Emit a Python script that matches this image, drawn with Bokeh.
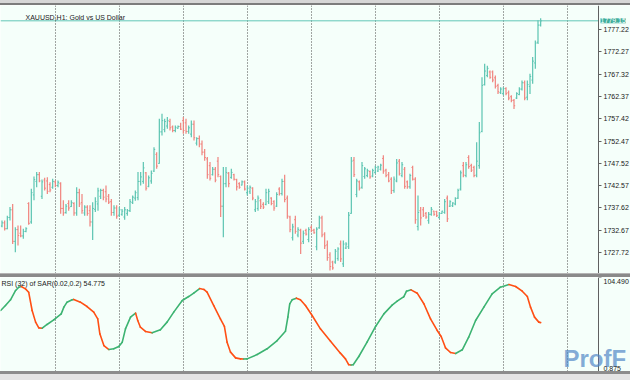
from bokeh.plotting import figure
from bokeh.models import (Range1d, FixedTicker, PrintfTickFormatter, Grid,
                          Label, ColumnDataSource, Div)
from bokeh.layouts import column
from bokeh.embed import file_html
from bokeh.resources import INLINE

# ---------------- data ----------------
symbol_title = "XAUUSD,H1:  Gold vs US Dollar"
indicator_title = "RSI (32) of SAR(0.02,0.2) 54.775"
current_price = 1779.15

bar_open = [1733.6, 1734.3, 1733.0, 1735.5, 1737.2, 1730.2, 1732.8, 1732.0, 1731.4, 1732.4,
            1738.6, 1734.5, 1740.5, 1743.5, 1745.0, 1740.2, 1743.8, 1743.6, 1742.8, 1742.2,
            1743.4, 1742.6, 1743.0, 1737.5, 1736.6, 1738.6, 1737.9, 1738.6, 1736.5, 1741.0,
            1738.8, 1736.5, 1737.8, 1737.0, 1734.5, 1737.3, 1738.5, 1740.2, 1741.5, 1741.2,
            1740.2, 1739.0, 1736.6, 1737.6, 1736.0, 1736.2, 1735.6, 1736.4, 1737.0, 1738.8,
            1739.8, 1739.9, 1743.5, 1743.5, 1745.4, 1742.4, 1743.6, 1745.8, 1749.5, 1747.5,
            1754.5, 1755.0, 1755.8, 1756.8, 1755.6, 1754.8, 1755.3, 1755.7, 1757.0, 1756.5,
            1754.6, 1754.0, 1756.2, 1752.0, 1753.0, 1751.8, 1750.0, 1748.5, 1747.0, 1745.0,
            1746.2, 1748.0, 1744.6, 1738.0, 1743.0, 1745.3, 1744.4, 1745.0, 1743.9, 1743.0,
            1742.7, 1743.4, 1741.0, 1741.2, 1742.0, 1737.2, 1737.5, 1739.2, 1738.4, 1738.4,
            1739.0, 1739.8, 1739.0, 1738.0, 1741.8, 1740.8, 1743.5, 1739.8, 1735.6, 1731.0,
            1735.0, 1731.6, 1732.6, 1730.2, 1732.6, 1730.6, 1733.3, 1732.7, 1729.0, 1733.2,
            1735.4, 1731.8, 1729.4, 1727.2, 1725.6, 1725.6, 1726.4, 1729.6, 1725.2, 1728.7,
            1729.0, 1736.4, 1748.2, 1740.6, 1743.4, 1742.2, 1744.6, 1744.8, 1745.7, 1744.7,
            1745.5, 1745.8, 1746.2, 1748.6, 1746.0, 1745.0, 1744.0, 1741.5, 1743.6, 1748.0,
            1744.8, 1746.2, 1743.4, 1742.3, 1746.6, 1744.0, 1733.5, 1737.0, 1737.2, 1736.4,
            1734.8, 1736.2, 1736.9, 1736.8, 1735.5, 1736.4, 1736.6, 1739.8, 1738.0, 1738.1,
            1738.5, 1739.8, 1741.8, 1747.0, 1744.8, 1748.8, 1747.0, 1746.6, 1744.9, 1747.0,
            1754.6, 1765.0, 1767.0, 1767.8, 1767.8, 1766.5, 1764.8, 1763.2, 1763.0, 1764.1,
            1763.2, 1762.3, 1761.5, 1762.0, 1762.8, 1764.0, 1765.4, 1762.2, 1764.6, 1766.0,
            1769.8, 1774.4, 1778.2]
bar_high = [1734.8, 1734.8, 1735.9, 1737.8, 1738.5, 1733.3, 1733.7, 1733.7, 1733.0, 1733.3,
            1738.9, 1741.9, 1744.6, 1745.6, 1745.6, 1743.9, 1744.3, 1744.4, 1743.3, 1744.1,
            1743.7, 1743.7, 1743.3, 1739.3, 1738.5, 1739.3, 1739.3, 1738.9, 1742.2, 1741.9,
            1740.7, 1738.2, 1738.2, 1738.2, 1738.9, 1740.0, 1742.1, 1741.9, 1741.9, 1742.6,
            1740.7, 1739.6, 1738.2, 1738.2, 1737.8, 1737.4, 1737.8, 1737.4, 1739.6, 1740.4,
            1741.5, 1745.6, 1745.6, 1747.8, 1745.6, 1744.8, 1745.9, 1751.1, 1750.0, 1757.4,
            1758.5, 1757.4, 1757.8, 1757.4, 1755.9, 1755.9, 1755.9, 1756.5, 1757.8, 1757.4,
            1755.9, 1757.0, 1757.0, 1753.3, 1753.7, 1752.6, 1750.7, 1748.9, 1747.8, 1746.7,
            1746.7, 1748.9, 1744.8, 1746.7, 1746.7, 1745.6, 1746.3, 1745.2, 1744.1, 1743.3,
            1743.7, 1743.7, 1742.6, 1742.6, 1742.2, 1739.6, 1740.4, 1739.6, 1738.9, 1741.9,
            1741.9, 1740.0, 1739.3, 1741.1, 1742.2, 1744.1, 1745.0, 1740.4, 1735.9, 1734.1,
            1735.9, 1733.3, 1733.0, 1732.6, 1733.0, 1733.3, 1733.7, 1733.0, 1733.3, 1735.9,
            1735.9, 1732.2, 1730.4, 1727.8, 1725.9, 1728.5, 1728.9, 1730.4, 1730.4, 1730.0,
            1736.7, 1748.9, 1748.9, 1744.1, 1743.7, 1747.8, 1746.7, 1746.3, 1745.9, 1746.3,
            1747.0, 1747.0, 1747.4, 1749.3, 1746.3, 1745.6, 1744.4, 1744.6, 1748.5, 1748.5,
            1747.8, 1746.7, 1743.7, 1745.2, 1747.0, 1744.4, 1740.4, 1737.8, 1737.8, 1736.7,
            1736.7, 1737.8, 1737.0, 1737.0, 1736.7, 1737.0, 1739.6, 1740.4, 1739.3, 1738.9,
            1740.0, 1741.9, 1745.9, 1747.8, 1747.8, 1749.3, 1747.4, 1747.0, 1752.2, 1756.7,
            1766.6, 1769.6, 1769.2, 1768.1, 1768.1, 1767.0, 1765.2, 1764.4, 1764.4, 1764.4,
            1763.7, 1762.6, 1761.8, 1763.3, 1764.4, 1765.9, 1765.9, 1765.9, 1767.4, 1771.1,
            1774.8, 1779.3, 1779.7]
bar_low = [1733.3, 1732.6, 1732.9, 1734.8, 1729.6, 1727.8, 1729.3, 1731.1, 1730.8, 1732.2,
           1733.9, 1734.1, 1739.3, 1742.2, 1743.3, 1739.6, 1741.5, 1740.7, 1741.1, 1741.9,
           1742.2, 1742.2, 1736.3, 1735.9, 1736.3, 1737.0, 1737.8, 1735.9, 1735.9, 1737.8,
           1736.3, 1735.9, 1735.9, 1733.5, 1730.5, 1736.7, 1737.0, 1739.6, 1739.3, 1738.9,
           1738.5, 1735.9, 1735.9, 1735.2, 1735.6, 1735.9, 1735.0, 1735.9, 1736.7, 1738.5,
           1739.2, 1739.3, 1742.6, 1743.0, 1741.5, 1742.2, 1743.0, 1745.6, 1746.3, 1747.4,
           1753.7, 1754.4, 1755.2, 1754.8, 1754.4, 1754.4, 1755.2, 1754.9, 1754.1, 1754.1,
           1754.1, 1753.3, 1752.6, 1751.5, 1751.1, 1749.3, 1748.1, 1744.1, 1743.7, 1744.8,
           1743.3, 1744.4, 1735.6, 1731.1, 1742.2, 1742.2, 1744.1, 1743.7, 1741.5, 1741.9,
           1742.6, 1741.5, 1740.4, 1740.7, 1739.3, 1736.7, 1737.0, 1737.4, 1737.4, 1738.2,
           1738.5, 1738.2, 1737.0, 1737.8, 1740.4, 1740.4, 1738.9, 1735.2, 1732.2, 1730.4,
           1731.9, 1731.1, 1727.4, 1729.6, 1731.5, 1730.0, 1732.2, 1731.9, 1728.2, 1733.0,
           1731.1, 1728.5, 1725.9, 1723.7, 1723.9, 1725.2, 1725.9, 1725.6, 1724.5, 1728.5,
           1728.5, 1736.3, 1744.5, 1740.0, 1741.5, 1741.9, 1744.1, 1744.4, 1744.1, 1744.4,
           1745.2, 1745.6, 1745.9, 1745.2, 1744.4, 1743.3, 1740.7, 1741.0, 1743.3, 1744.8,
           1744.4, 1741.9, 1741.9, 1741.9, 1743.7, 1734.1, 1732.6, 1733.7, 1735.6, 1735.2,
           1734.1, 1735.9, 1735.9, 1735.6, 1735.2, 1736.3, 1736.3, 1734.5, 1737.8, 1737.8,
           1738.2, 1739.6, 1741.5, 1744.4, 1744.4, 1746.3, 1745.6, 1744.4, 1744.4, 1746.3,
           1754.4, 1764.8, 1766.6, 1766.3, 1765.5, 1764.1, 1762.9, 1762.9, 1762.6, 1762.6,
           1761.5, 1761.1, 1759.6, 1761.8, 1762.6, 1763.7, 1761.5, 1761.5, 1762.9, 1765.2,
           1768.5, 1774.0, 1777.9]
bar_close = [1734.3, 1733.0, 1735.5, 1737.2, 1730.2, 1732.8, 1731.5, 1731.4, 1732.4, 1733.0,
             1734.2, 1741.0, 1743.9, 1745.0, 1743.6, 1743.4, 1742.0, 1741.3, 1741.6, 1743.5,
             1742.6, 1743.3, 1737.5, 1736.5, 1738.0, 1737.6, 1738.8, 1736.5, 1741.0, 1738.5,
             1737.0, 1737.8, 1736.4, 1734.5, 1737.5, 1739.0, 1741.4, 1741.5, 1740.0, 1739.6,
             1738.9, 1736.6, 1737.6, 1735.8, 1737.2, 1736.9, 1737.2, 1737.0, 1739.0, 1740.0,
             1741.0, 1743.5, 1744.5, 1746.5, 1742.0, 1744.3, 1745.3, 1750.6, 1746.9, 1754.5,
             1757.0, 1756.8, 1757.0, 1755.4, 1754.8, 1755.5, 1755.7, 1755.1, 1754.8, 1754.6,
             1755.4, 1756.2, 1753.2, 1753.0, 1751.8, 1750.0, 1748.8, 1745.0, 1744.2, 1746.2,
             1743.8, 1745.0, 1738.0, 1743.0, 1745.5, 1743.0, 1745.5, 1744.0, 1742.3, 1742.2,
             1743.4, 1741.8, 1742.0, 1742.2, 1739.8, 1739.0, 1739.8, 1738.0, 1737.8, 1741.0,
             1741.3, 1738.6, 1737.6, 1740.6, 1740.8, 1743.5, 1739.5, 1735.8, 1732.8, 1733.4,
             1732.4, 1732.8, 1729.8, 1732.0, 1731.8, 1732.8, 1732.6, 1732.1, 1732.9, 1735.4,
             1731.6, 1729.2, 1726.6, 1724.6, 1724.3, 1728.0, 1728.5, 1726.3, 1729.6, 1729.6,
             1736.0, 1748.0, 1745.0, 1743.6, 1742.0, 1747.0, 1746.3, 1745.9, 1744.5, 1745.9,
             1746.6, 1746.7, 1747.1, 1745.8, 1744.8, 1743.6, 1741.5, 1744.0, 1747.6, 1745.2,
             1747.2, 1742.4, 1742.3, 1744.8, 1744.0, 1735.0, 1736.6, 1735.4, 1736.0, 1735.6,
             1736.2, 1737.3, 1736.2, 1735.9, 1736.4, 1736.9, 1739.0, 1735.2, 1739.0, 1738.7,
             1739.7, 1741.5, 1745.4, 1744.9, 1747.2, 1746.8, 1746.0, 1744.8, 1748.0, 1754.3,
             1764.8, 1768.0, 1768.6, 1766.6, 1766.0, 1764.6, 1763.4, 1764.0, 1764.1, 1763.0,
             1762.0, 1761.5, 1760.3, 1763.0, 1764.0, 1765.4, 1762.0, 1765.0, 1766.8, 1770.2,
             1774.2, 1778.2, 1779.15]

price_ticks = [1727.72, 1732.67, 1737.62, 1742.57, 1747.52, 1752.47,
               1757.42, 1762.37, 1767.32, 1772.27, 1777.22]
day_ticks = [20, 44, 68, 92, 116, 140, 164, 188, 212]

rsi_x = [-0.5, 1.3, 3.2, 5.1, 6.3, 7.2, 8.8, 10.0, 11.3, 12.6, 13.8, 15.1, 16.9, 19.4,
         22.2, 23.2, 24.4, 26.3, 26.9, 29.4, 31.9, 34.4, 35.9, 36.7, 38.2, 40.1, 41.9,
         43.8, 45.1, 46.3, 48.2, 50.1, 50.9, 51.9, 53.8, 56.3, 59.4, 61.9, 64.4, 67.6,
         70.0, 71.9, 74.1, 75.7, 76.9, 79.4, 81.9, 83.4, 84.4, 85.7, 87.6, 89.4, 90.6,
         91.9, 95.7, 99.4, 103.2, 106.3, 107.2, 107.9, 108.8, 110.4, 111.9, 113.8, 116.3,
         119.4, 123.2, 126.9, 128.8, 130.0, 130.9, 131.7, 133.8, 136.9, 140.1, 143.2,
         146.3, 148.2, 150.7, 151.7, 153.4, 155.7, 158.2, 160.7, 163.2, 164.7, 166.3,
         168.2, 170.1, 172.6, 175.0, 177.6, 180.7, 183.8, 186.9, 190.1, 192.6, 195.1,
         197.0, 198.2, 199.7, 201.3, 202.0]
rsi_v = [68.1, 73.6, 79.9, 90.2, 93.8, 94.6, 92.0, 88.3, 68.1, 55.3, 49.0, 48.6, 52.7, 57.8,
         64.4, 71.8, 77.3, 79.9, 80.3, 77.3, 72.5, 66.3, 58.9, 42.4, 29.5, 25.1, 25.9,
         28.4, 33.2, 47.9, 60.8, 65.2, 57.1, 49.7, 45.0, 43.5, 46.8, 55.3, 66.3, 79.1,
         83.5, 87.2, 92.3, 91.3, 88.3, 73.6, 58.9, 50.5, 33.2, 22.2, 15.9, 14.8, 14.6,
         14.8, 19.6, 25.9, 35.0, 45.3, 60.8, 75.5, 79.9, 81.7, 79.9, 73.6, 62.6,
         47.9, 34.3, 21.1, 14.8, 8.4, 8.1, 8.3, 17.4, 33.2, 50.5, 64.4,
         74.0, 78.4, 83.5, 89.4, 90.9, 87.2, 75.5, 58.9, 46.1, 39.5, 27.0,
         21.8, 20.7, 24.8, 38.7, 57.1, 71.8, 86.5, 93.8, 96.8, 94.6, 89.4,
         83.5, 71.8, 60.8, 55.3, 54.775]
rsi_min, rsi_max = 0.875, 104.490

# ---------------- style / layout ----------------
BG = "#F5FFFA"
UP = "#5bc4b1"
DN = "#f0837d"
RSI_UP = "#3cb371"
RSI_DN = "#ff4f14"
GRID = "#4a4a4a"
AXIS = "#606060"
TXT = "#202020"
FONT = "Liberation Sans"
W = 630
TOP_H, MAIN_H, SEP_H, SUB_H, BOT_H = 5, 268, 4, 94, 9
BAR_PX = 8.0 / 3.0            # pixels per bar
AXIS_PX = 598                 # screen x of the price scale line
x_lo = -1.5 / BAR_PX
x_hi = x_lo + W / BAR_PX
axis_x = x_lo + AXIS_PX / BAR_PX
y_lo, y_hi = 1723.06, 1782.55


def px_x(n_px):
    return x_lo + n_px / BAR_PX


def common(p):
    p.grid.visible = False
    p.add_layout(Grid(dimension=0, ticker=FixedTicker(ticks=day_ticks),
                      grid_line_color=GRID, grid_line_dash="1 2", grid_line_width=1))
    ax = p.yaxis[0]
    ax.fixed_location = axis_x
    ax.axis_line_color = AXIS
    ax.major_tick_line_color = AXIS
    ax.major_tick_out = 3
    ax.major_tick_in = 0
    ax.minor_tick_out = 0
    ax.minor_tick_in = 0
    ax.major_label_standoff = 2
    ax.major_label_text_font = FONT
    ax.major_label_text_font_size = "7px"
    ax.major_label_text_color = TXT


def make_fig(h, yr):
    return figure(frame_width=W, frame_height=h,
                  x_range=Range1d(x_lo, x_hi), y_range=yr,
                  x_axis_location=None, y_axis_location="right",
                  toolbar_location=None, output_backend="svg",
                  min_border_left=0, min_border_top=0, min_border_bottom=0,
                  min_border_right=0,
                  background_fill_color=BG, border_fill_color=BG,
                  outline_line_color=None)


# ---------------- main price panel ----------------
p = make_fig(MAIN_H, Range1d(y_lo, y_hi))
common(p)
p.yaxis.ticker = FixedTicker(ticks=price_ticks)
p.yaxis.formatter = PrintfTickFormatter(format="%.2f")

n = len(bar_open)
xs = list(range(n))
cols = [UP if c >= o else DN for o, c in zip(bar_open, bar_close)]
src = ColumnDataSource(dict(x=xs, xl=[x - 0.45 for x in xs], xr=[x + 0.45 for x in xs],
                            o=bar_open, h=bar_high, l=bar_low, c=bar_close, col=cols))
p.segment("x", "h", "x", "l", color="col", line_width=1.2, source=src)
p.segment("xl", "o", "x", "o", color="col", line_width=1.0, source=src)
p.segment("x", "c", "xr", "c", color="col", line_width=1.0, source=src)

p.segment(x0=[x_lo], y0=[current_price], x1=[axis_x], y1=[current_price],
          line_color="#62c7b6", line_width=1)
px_main = (y_hi - y_lo) / MAIN_H
p.add_layout(Label(x=px_x(600), y=current_price, text=f"{current_price:.2f}",
                   text_font=FONT, text_font_size="7px", text_color="white",
                   text_baseline="middle", text_align="left",
                   background_fill_color="#3fae9b"))
p.add_layout(Label(x=px_x(25), y=y_hi - 11.5 * px_main, text=symbol_title,
                   text_font=FONT, text_font_size="7px", text_color=TXT,
                   text_baseline="middle", text_align="left"))

# ---------------- RSI panel ----------------
q = make_fig(SUB_H, Range1d(rsi_min, rsi_max))
common(q)
q.yaxis.ticker = FixedTicker(ticks=[rsi_min, rsi_max])
q.yaxis.major_label_overrides = {rsi_min: "", rsi_max: ""}

rs = ColumnDataSource(dict(x0=rsi_x[:-1], y0=rsi_v[:-1], x1=rsi_x[1:], y1=rsi_v[1:],
                           c=[RSI_UP if b >= a else RSI_DN
                              for a, b in zip(rsi_v[:-1], rsi_v[1:])]))
q.segment("x0", "y0", "x1", "y1", color="c", line_width=1.6, line_cap="round", source=rs)

px_sub = (rsi_max - rsi_min) / SUB_H
q.add_layout(Label(x=px_x(563), y=rsi_min + 13 * px_sub, text="ProfF",
                   text_font=FONT, text_font_size="24px", text_font_style="bold",
                   text_color="#4f86c6", text_alpha=0.7,
                   text_baseline="middle", text_align="left"))
q.add_layout(Label(x=px_x(1), y=rsi_max - 6 * px_sub, text=indicator_title,
                   text_font=FONT, text_font_size="7px", text_color=TXT,
                   text_baseline="middle", text_align="left"))
q.add_layout(Label(x=px_x(603), y=rsi_max - 4 * px_sub, text=f"{rsi_max:.3f}",
                   text_font=FONT, text_font_size="7px", text_color=TXT,
                   text_baseline="middle", text_align="left"))
q.add_layout(Label(x=px_x(603), y=rsi_min + 3 * px_sub, text=f"{rsi_min:.3f}",
                   text_font=FONT, text_font_size="7px", text_color=TXT,
                   text_baseline="middle", text_align="left"))

top = Div(text="", width=W, height=TOP_H, margin=0,
          styles={"background": "linear-gradient(to bottom, #d6d6d6 0px, #d6d6d6 3px, "
                                "#7c7c7c 3px, #7c7c7c 5px)"})
sep = Div(text="", width=W, height=SEP_H, margin=0,
          styles={"background": "linear-gradient(to bottom, #b4b4b4 0px, #b4b4b4 1px, "
                                "#8a8a8a 1px, #8a8a8a 4px)"})
bottom = Div(text="", width=W, height=BOT_H, margin=0,
             styles={"background": "linear-gradient(to bottom, #8c8c8c 0px, #8c8c8c 3px, "
                                   "#e4e4e4 3px, #e4e4e4 9px)"})

layout = column(top, p, sep, q, bottom, spacing=0)
open("out.html", "w").write(file_html(layout, INLINE))
